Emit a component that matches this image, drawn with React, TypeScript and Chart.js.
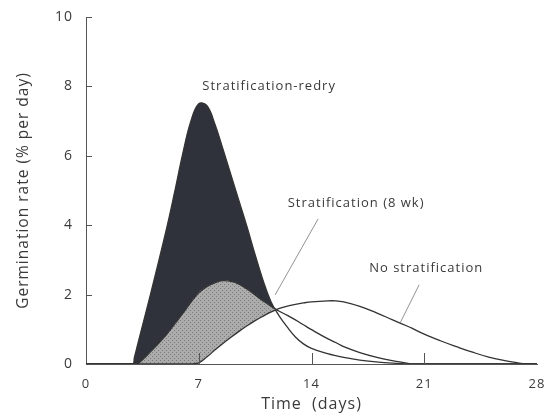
import React, { useEffect, useRef } from "react";
import { Chart, registerables } from "chart.js";

Chart.register(...registerables);

// ---- data ----
const days = [0, 1, 2, 2.9, 3, 3.2, 4, 5, 5.5, 6, 6.5, 7, 7.5, 8, 8.5, 9, 9.5, 10, 10.5, 11, 11.5, 12, 12.5, 13, 13.5, 14, 15, 15.5, 16, 17, 18, 19, 20, 20.2, 21, 22, 23, 24, 25, 26, 27, 27.3, 28];

const redry = [0, 0, 0, 0, 0.18, 0.55, 2.0, 3.9, 4.95, 6.05, 6.98, 7.5, 7.45, 6.92, 6.2, 5.45, 4.7, 3.95, 3.15, 2.4, 1.78, 1.38, 1.06, 0.78, 0.58, 0.45, 0.3, 0.24, 0.19, 0.11, 0.06, 0.025, 0.005, 0, 0, 0, 0, 0, 0, 0, 0, 0, 0];

const strat8wk = [0, 0, 0, 0, 0, 0, 0.35, 0.85, 1.15, 1.45, 1.77, 2.05, 2.23, 2.34, 2.4, 2.38, 2.3, 2.16, 1.99, 1.82, 1.66, 1.52, 1.4, 1.27, 1.13, 0.99, 0.73, 0.62, 0.5, 0.33, 0.2, 0.1, 0.02, 0, 0, 0, 0, 0, 0, 0, 0, 0, 0];

const noStrat = [0, 0, 0, 0, 0, 0, 0, 0, 0, 0, 0, 0.03, 0.2, 0.4, 0.59, 0.77, 0.94, 1.1, 1.25, 1.38, 1.5, 1.6, 1.67, 1.72, 1.76, 1.79, 1.82, 1.82, 1.79, 1.66, 1.48, 1.28, 1.08, 1.04, 0.86, 0.67, 0.5, 0.34, 0.2, 0.1, 0.02, 0, 0];

const seriesNames = ["No stratification", "Stratification (8 wk)", "Stratification-redry"];

const yTickValues = [2, 4, 6, 8, 10];
const xTickValues = [7, 14, 21];

// annotation labels
const labelTexts = ["Stratification-redry", "Stratification (8 wk)", "No stratification"];
const labelDays = [11.37, 16.77, 21.12];
const labelValues = [8.01, 4.64, 2.76];

// leader lines
const leaderFromDays = [14.41, 20.68];
const leaderFromValues = [4.18, 2.28];
const leaderToDays = [11.74, 19.5];
const leaderToValues = [1.99, 1.18];

const FONT = "'Open Sans', sans-serif";
const TEXT = "#3a3a3a";

function toPoints(vals: number[]) {
  return days.map((d, i) => ({ x: d, y: vals[i] }));
}

export default function App() {
  const ref = useRef<HTMLCanvasElement>(null);

  useEffect(() => {
    const canvas = ref.current!;
    const pc = document.createElement("canvas");
    pc.width = 4;
    pc.height = 4;
    const p = pc.getContext("2d")!;
    p.fillStyle = "#acacac";
    p.fillRect(0, 0, 4, 4);
    p.fillStyle = "#7a7a7a";
    p.fillRect(0, 0, 1, 1);
    p.fillRect(2, 2, 1, 1);
    const pattern = canvas.getContext("2d")!.createPattern(pc, "repeat")!;

    const spacing = {
      id: "spacing",
      beforeUpdate(chart: any) {
        chart.ctx.letterSpacing = "1px";
      },
      beforeDraw(chart: any) {
        chart.ctx.letterSpacing = "1px";
      },
    };

    const decor = {
      id: "decor",
      afterDatasetsDraw(chart: any) {
        const ctx = chart.ctx;
        const xs = chart.scales.x;
        const ys = chart.scales.y;
        const { left, bottom } = chart.chartArea;
        ctx.save();
        ctx.strokeStyle = "#555";
        ctx.lineWidth = 1;
        ctx.beginPath();
        yTickValues.forEach((v) => {
          const py = Math.round(ys.getPixelForValue(v)) + 0.5;
          ctx.moveTo(left, py);
          ctx.lineTo(left + 6, py);
        });
        xTickValues.forEach((v) => {
          const px = Math.round(xs.getPixelForValue(v)) + 0.5;
          ctx.moveTo(px, bottom);
          ctx.lineTo(px, bottom - 11);
        });
        ctx.stroke();

        ctx.strokeStyle = "#777";
        ctx.lineWidth = 0.8;
        ctx.beginPath();
        leaderFromDays.forEach((d, i) => {
          ctx.moveTo(xs.getPixelForValue(d), ys.getPixelForValue(leaderFromValues[i]));
          ctx.lineTo(xs.getPixelForValue(leaderToDays[i]), ys.getPixelForValue(leaderToValues[i]));
        });
        ctx.stroke();

        ctx.fillStyle = TEXT;
        ctx.font = `13px ${FONT}`;
        ctx.textAlign = "center";
        ctx.textBaseline = "middle";
        labelTexts.forEach((t, i) => {
          ctx.fillText(t, xs.getPixelForValue(labelDays[i]), ys.getPixelForValue(labelValues[i]));
        });
        ctx.restore();
      },
    };

    const lineCommon = {
      borderColor: "#333",
      borderWidth: 1.3,
      pointRadius: 0,
      tension: 0.4,
    };

    const zeroPad = (s: any) => {
      s.paddingTop = 0;
      s.paddingBottom = 0;
      s.paddingLeft = 0;
      s.paddingRight = 0;
    };

    const chart = new Chart(canvas, {
      type: "line",
      data: {
        datasets: [
          { label: seriesNames[0], data: toPoints(noStrat), ...lineCommon, fill: false },
          {
            label: seriesNames[1],
            data: toPoints(strat8wk),
            ...lineCommon,
            fill: { target: 0, above: pattern, below: "rgba(0,0,0,0)" },
          },
          {
            label: seriesNames[2],
            data: toPoints(redry),
            ...lineCommon,
            fill: { target: 1, above: "#2f323a", below: "rgba(0,0,0,0)" },
          },
        ],
      },
      options: {
        animation: false,
        responsive: false,
        devicePixelRatio: 1,
        layout: { padding: { left: 0, right: 7, top: 17, bottom: 0 } },
        plugins: { legend: { display: false }, tooltip: { enabled: false } },
        scales: {
          x: {
            type: "linear",
            min: 0,
            max: 28,
            grid: { display: false, drawTicks: false },
            border: { display: true, color: "#555", width: 1 },
            ticks: { stepSize: 7, padding: 12, color: TEXT, font: { family: FONT, size: 13 } },
            title: {
              display: true,
              text: "Time  (days)",
              color: TEXT,
              font: { family: FONT, size: 16 },
              padding: { top: 0, bottom: 0 },
            },
            afterFit: (s: any) => {
              s.height = 50;
              zeroPad(s);
            },
          },
          y: {
            type: "linear",
            min: 0,
            max: 10,
            grid: { display: false, drawTicks: false },
            border: { display: true, color: "#555", width: 1 },
            ticks: { stepSize: 2, padding: 13, color: TEXT, font: { family: FONT, size: 14 } },
            title: {
              display: true,
              text: "Germination rate (% per day)",
              color: TEXT,
              font: { family: FONT, size: 15.5 },
              padding: { top: 14, bottom: 0 },
            },
            afterFit: (s: any) => {
              s.width = 86;
              zeroPad(s);
            },
          },
        },
      },
      plugins: [spacing, decor],
    });
    return () => chart.destroy();
  }, []);

  return (
    <div style={{ position: "absolute", left: 0, top: 0, width: 544, height: 414, background: "#fff" }}>
      <canvas ref={ref} width={544} height={414} style={{ display: "block" }} />
    </div>
  );
}
